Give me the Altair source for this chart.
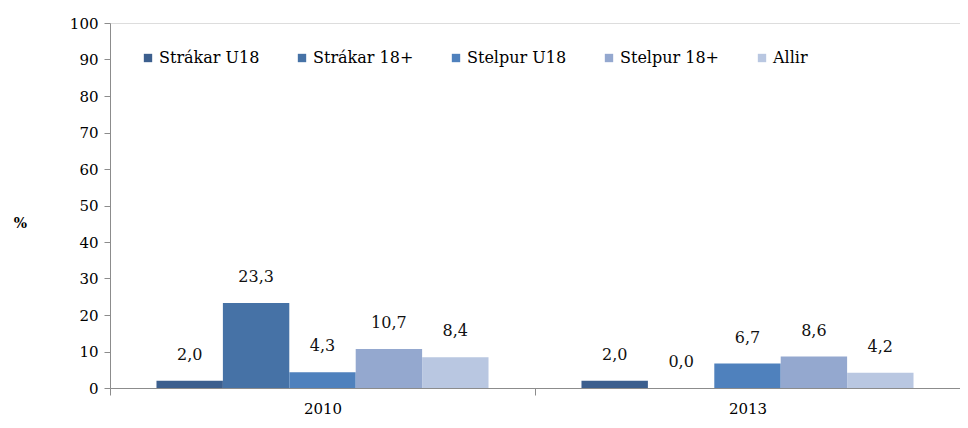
import altair as alt
import pandas as pd

years = ["2010", "2013"]
series = ["Strákar U18", "Strákar 18+", "Stelpur U18", "Stelpur 18+", "Allir"]
values_2010 = [2.0, 23.3, 4.3, 10.7, 8.4]
values_2013 = [2.0, 0.0, 6.7, 8.6, 4.2]
colors = ["#3C5F8E", "#4672A6", "#4F81BD", "#94A8CF", "#B9C7E1"]
y_ticks = [0, 10, 20, 30, 40, 50, 60, 70, 80, 90, 100]

rows = []
for yr, vals in zip(years, [values_2010, values_2013]):
    for i, (s, v) in enumerate(zip(series, vals)):
        rows.append({"year": yr, "series": s, "order": i, "value": v,
                     "label": f"{v:.1f}".replace(".", ",")})
df = pd.DataFrame(rows)

FONT = "DejaVu Serif"

base = alt.Chart(df).encode(
    x=alt.X("year:N", sort=years, title=None,
            scale=alt.Scale(paddingInner=0, paddingOuter=0),
            axis=alt.Axis(labelAngle=0, tickBand="extent", labelFont=FONT,
                          labelFontSize=15, labelColor="#000000",
                          domainColor="#8c8c8c", tickColor="#8c8c8c",
                          tickSize=7, labelPadding=6, grid=False)),
    xOffset=alt.XOffset("series:N", sort=series,
                        scale=alt.Scale(paddingInner=0, paddingOuter=0.7)),
    y=alt.Y("value:Q", title="%",
            scale=alt.Scale(domain=[0, 100], nice=False),
            axis=alt.Axis(values=y_ticks, labelOverlap=False,
                          grid=False, labelFont=FONT, labelFontSize=15,
                          labelColor="#000000", labelBaseline="middle",
                          domainColor="#8c8c8c", tickColor="#8c8c8c", tickSize=6,
                          labelPadding=6, titleAngle=0, titleFont=FONT,
                          titleFontSize=14, titleFontWeight="bold",
                          titleColor="#000000", titleX=-90, titleY=207,
                          titleAlign="center")),
)

bars = base.mark_bar().encode(
    color=alt.Color("series:N", sort=series,
                    scale=alt.Scale(domain=series, range=colors),
                    legend=alt.Legend(title=None, orient="none", direction="horizontal",
                                      legendX=30, legendY=27, symbolType="square",
                                      symbolSize=70, symbolStrokeWidth=0,
                                      labelFont=FONT, labelFontSize=16,
                                      labelColor="#000000", columnPadding=34,
                                      labelOffset=3)),
)

labels = base.mark_text(baseline="bottom", dy=-18, font=FONT, fontSize=16,
                        color="#111111").encode(
    text="label:N",
)

chart = (bars + labels).properties(
    width=850, height=365,
    autosize=alt.AutoSizeParams(type="none"),
    padding={"left": 102, "top": 15, "right": 0, "bottom": 30},
).configure_view(stroke=None).configure(background="#ffffff", font=FONT)

chart.save("out.html", embed_options={"renderer": "svg", "actions": False})
